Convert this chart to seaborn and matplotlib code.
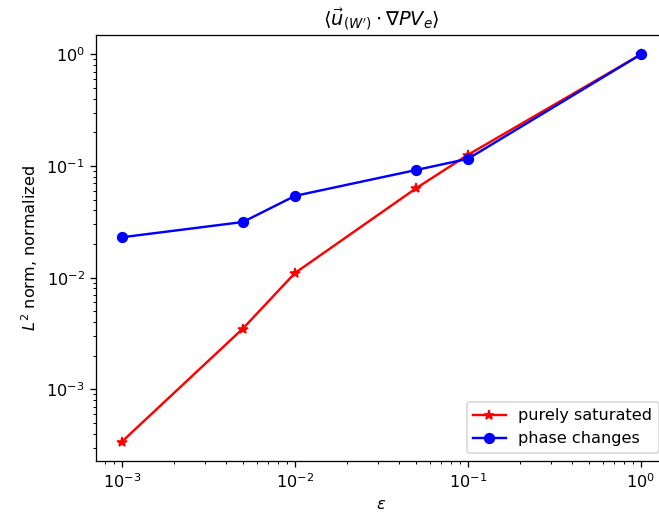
import matplotlib
matplotlib.use("Agg")
import matplotlib.pyplot as plt
import seaborn as sns
import pandas as pd

# data
eps = [1e-3, 5e-3, 1e-2, 5e-2, 1e-1, 1.0]
purely_saturated = [3.4e-4, 3.5e-3, 1.1e-2, 6.3e-2, 1.26e-1, 1.0]
phase_changes = [2.3e-2, 3.15e-2, 5.4e-2, 9.2e-2, 1.16e-1, 1.0]

df_sat = pd.DataFrame({'eps': eps, 'val': purely_saturated})
df_pc = pd.DataFrame({'eps': eps, 'val': phase_changes})

DPI = 116
fig, ax = plt.subplots(figsize=(659 / DPI, 520 / DPI), dpi=DPI)
sns.lineplot(data=df_sat, x='eps', y='val', marker='*', markersize=6,
             markeredgecolor='red', markeredgewidth=1, color='red',
             label='purely saturated', ax=ax)
sns.lineplot(data=df_pc, x='eps', y='val', marker='o', markersize=6,
             markeredgecolor='blue', markeredgewidth=1, color='blue',
             label='phase changes', ax=ax)

ax.set_xscale('log')
ax.set_yscale('log')
ax.set_xlabel(r'$\varepsilon$')
ax.set_ylabel(r'$L^2$ norm, normalized')
ax.set_title(r'$\langle \vec{u}_{(W^\prime)} \cdot \nabla PV_e \rangle$')
ax.legend(loc='lower right')

# right edge of the axes is cropped off in the reference
plt.subplots_adjust(left=0.1457, right=1.012, top=0.9327, bottom=0.1135)
plt.savefig('out.png', dpi=DPI)
